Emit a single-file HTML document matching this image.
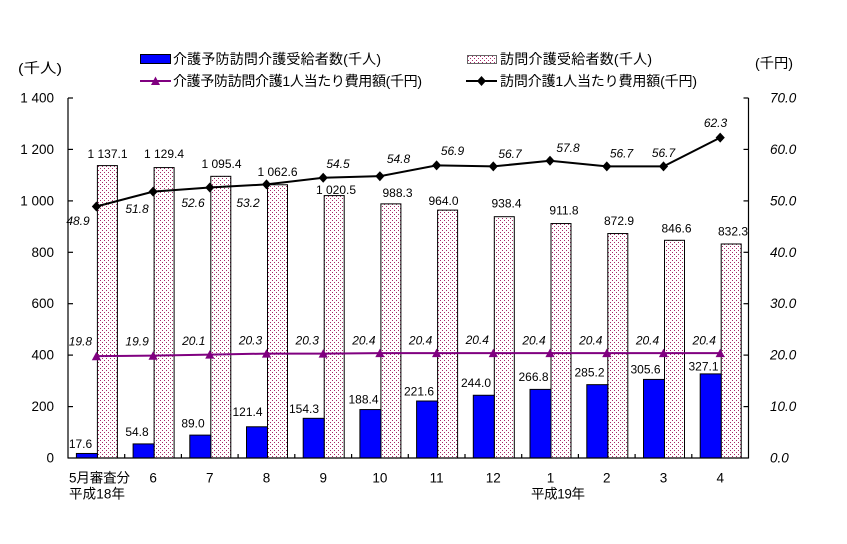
<!DOCTYPE html>
<html><head><meta charset="utf-8"><style>
html,body{margin:0;padding:0;background:#fff;}
svg{display:block;}
text{font-family:"Liberation Sans","Noto Sans CJK JP",sans-serif;fill:#000;}
.ax{font-size:13.5px;}
.dl{font-size:12px;}
.it{font-size:12px;font-style:italic;}
.rt{font-size:13.5px;font-style:italic;}
.lg{font-size:14px;}
</style></head><body>
<svg width="847" height="544" viewBox="0 0 847 544" xmlns="http://www.w3.org/2000/svg">
<defs>
<pattern id="dots" width="4" height="4" patternUnits="userSpaceOnUse">
<rect width="4" height="4" fill="#fff"/>
<rect x="0" y="0" width="1" height="1" fill="#a82868"/>
<rect x="2" y="2" width="1" height="1" fill="#a82868"/>
</pattern>
</defs>
<rect width="847" height="544" fill="#fff"/>

<!-- Legend -->
<rect x="140.5" y="54.5" width="30" height="9" fill="#0000ff" stroke="#000" stroke-width="1"/>
<text class="lg" x="173" y="59" dominant-baseline="central" textLength="208">介護予防訪問介護受給者数(千人)</text>
<line x1="140" y1="81" x2="171" y2="81" stroke="#800080" stroke-width="2"/>
<polygon points="155.5,76.5 160,85 151,85" fill="#800080"/>
<text class="lg" x="173" y="81" dominant-baseline="central" textLength="249">介護予防訪問介護1人当たり費用額(千円)</text>

<rect x="467.5" y="55.5" width="29" height="8" fill="url(#dots)" stroke="#666" stroke-width="1"/>
<text class="lg" x="500" y="59" dominant-baseline="central" textLength="152">訪問介護受給者数(千人)</text>
<line x1="466" y1="81" x2="497" y2="81" stroke="#000" stroke-width="2"/>
<polygon points="481.5,76 486,81 481.5,86 477,81" fill="#000"/>
<text class="lg" x="500" y="81" dominant-baseline="central" textLength="197">訪問介護1人当たり費用額(千円)</text>

<!-- Units -->
<text x="18" y="68" dominant-baseline="central" style="font-size:14px" textLength="44" lengthAdjust="spacingAndGlyphs">(千人)</text>
<text x="755" y="63" dominant-baseline="central" style="font-size:14px" textLength="38" lengthAdjust="spacingAndGlyphs">(千円)</text>

<!-- Pink bars -->
<g fill="url(#dots)" stroke="#000" stroke-width="1">
<rect x="97.4" y="165.6" width="20" height="292.4"/>
<rect x="154.1" y="167.58" width="20" height="290.42"/>
<rect x="210.8" y="176.33" width="20" height="281.67"/>
<rect x="267.5" y="184.76" width="20" height="273.24"/>
<rect x="324.2" y="195.59" width="20" height="262.41"/>
<rect x="380.9" y="203.87" width="20" height="254.13"/>
<rect x="437.6" y="210.11" width="20" height="247.89"/>
<rect x="494.3" y="216.7" width="20" height="241.3"/>
<rect x="551.0" y="223.54" width="20" height="234.46"/>
<rect x="607.8" y="233.54" width="20" height="224.46"/>
<rect x="664.5" y="240.3" width="20" height="217.7"/>
<rect x="721.2" y="243.98" width="20" height="214.02"/>
</g>

<!-- Blue bars -->
<g fill="#0000ff" stroke="#000" stroke-width="1">
<rect x="76.4" y="453.47" width="21" height="4.53"/>
<rect x="133.1" y="443.91" width="21" height="14.09"/>
<rect x="189.8" y="435.11" width="21" height="22.89"/>
<rect x="246.5" y="426.78" width="21" height="31.22"/>
<rect x="303.2" y="418.32" width="21" height="39.68"/>
<rect x="359.9" y="409.55" width="21" height="48.45"/>
<rect x="416.6" y="401.02" width="21" height="56.98"/>
<rect x="473.3" y="395.26" width="21" height="62.74"/>
<rect x="530.0" y="389.39" width="21" height="68.61"/>
<rect x="586.8" y="384.66" width="21" height="73.34"/>
<rect x="643.5" y="379.42" width="21" height="78.58"/>
<rect x="700.2" y="373.89" width="21" height="84.11"/>
</g>

<!-- Axes -->
<g stroke="#000" stroke-width="1.2" fill="none">
<line x1="68" y1="98" x2="68" y2="458.5"/>
<line x1="748.5" y1="98" x2="748.5" y2="458.5"/>
<line x1="68" y1="458" x2="748.5" y2="458"/>
<line x1="68" y1="98" x2="73" y2="98"/>
<line x1="68" y1="149.4" x2="73" y2="149.4"/>
<line x1="68" y1="200.9" x2="73" y2="200.9"/>
<line x1="68" y1="252.3" x2="73" y2="252.3"/>
<line x1="68" y1="303.7" x2="73" y2="303.7"/>
<line x1="68" y1="355.1" x2="73" y2="355.1"/>
<line x1="68" y1="406.6" x2="73" y2="406.6"/>
<line x1="743.5" y1="98" x2="748.5" y2="98"/>
<line x1="743.5" y1="149.4" x2="748.5" y2="149.4"/>
<line x1="743.5" y1="200.9" x2="748.5" y2="200.9"/>
<line x1="743.5" y1="252.3" x2="748.5" y2="252.3"/>
<line x1="743.5" y1="303.7" x2="748.5" y2="303.7"/>
<line x1="743.5" y1="355.1" x2="748.5" y2="355.1"/>
<line x1="743.5" y1="406.6" x2="748.5" y2="406.6"/>
<line x1="124.7" y1="454" x2="124.7" y2="458"/>
<line x1="181.4" y1="454" x2="181.4" y2="458"/>
<line x1="238.1" y1="454" x2="238.1" y2="458"/>
<line x1="294.8" y1="454" x2="294.8" y2="458"/>
<line x1="351.6" y1="454" x2="351.6" y2="458"/>
<line x1="408.3" y1="454" x2="408.3" y2="458"/>
<line x1="465.0" y1="454" x2="465.0" y2="458"/>
<line x1="521.7" y1="454" x2="521.7" y2="458"/>
<line x1="578.4" y1="454" x2="578.4" y2="458"/>
<line x1="635.1" y1="454" x2="635.1" y2="458"/>
<line x1="691.8" y1="454" x2="691.8" y2="458"/>
</g>

<!-- Left axis labels -->
<text x="54" y="98" class="ax" text-anchor="end" dominant-baseline="central">1 400</text>
<text x="54" y="149.4" class="ax" text-anchor="end" dominant-baseline="central">1 200</text>
<text x="54" y="200.9" class="ax" text-anchor="end" dominant-baseline="central">1 000</text>
<text x="54" y="252.3" class="ax" text-anchor="end" dominant-baseline="central">800</text>
<text x="54" y="303.7" class="ax" text-anchor="end" dominant-baseline="central">600</text>
<text x="54" y="355.1" class="ax" text-anchor="end" dominant-baseline="central">400</text>
<text x="54" y="406.6" class="ax" text-anchor="end" dominant-baseline="central">200</text>
<text x="54" y="458" class="ax" text-anchor="end" dominant-baseline="central">0</text>

<!-- Right axis labels -->
<text class="rt" x="770" y="98" dominant-baseline="central">70.0</text>
<text class="rt" x="770" y="149.4" dominant-baseline="central">60.0</text>
<text class="rt" x="770" y="200.9" dominant-baseline="central">50.0</text>
<text class="rt" x="770" y="252.3" dominant-baseline="central">40.0</text>
<text class="rt" x="770" y="303.7" dominant-baseline="central">30.0</text>
<text class="rt" x="770" y="355.1" dominant-baseline="central">20.0</text>
<text class="rt" x="770" y="406.6" dominant-baseline="central">10.0</text>
<text class="rt" x="770" y="458" dominant-baseline="central">0.0</text>

<!-- X axis labels -->
<text class="ax" x="69" y="478" dominant-baseline="central" textLength="61">5月審査分</text>
<text class="ax" x="69" y="494" dominant-baseline="central" textLength="56">平成18年</text>
<text class="ax" x="153.1" y="478" text-anchor="middle" dominant-baseline="central">6</text>
<text class="ax" x="209.8" y="478" text-anchor="middle" dominant-baseline="central">7</text>
<text class="ax" x="266.5" y="478" text-anchor="middle" dominant-baseline="central">8</text>
<text class="ax" x="323.2" y="478" text-anchor="middle" dominant-baseline="central">9</text>
<text class="ax" x="379.9" y="478" text-anchor="middle" dominant-baseline="central">10</text>
<text class="ax" x="436.6" y="478" text-anchor="middle" dominant-baseline="central">11</text>
<text class="ax" x="493.3" y="478" text-anchor="middle" dominant-baseline="central">12</text>
<text class="ax" x="550.5" y="478" text-anchor="middle" dominant-baseline="central">1</text>
<text class="ax" x="606.8" y="478" text-anchor="middle" dominant-baseline="central">2</text>
<text class="ax" x="663.5" y="478" text-anchor="middle" dominant-baseline="central">3</text>
<text class="ax" x="720.2" y="478" text-anchor="middle" dominant-baseline="central">4</text>
<text class="ax" x="531" y="494" dominant-baseline="central" textLength="54">平成19年</text>

<!-- Triangle line (purple) -->
<polyline fill="none" stroke="#800080" stroke-width="2" points="96.4,356.17 153.1,355.66 209.8,354.63 266.5,353.6 323.2,353.6 379.9,353.09 436.6,353.09 493.3,353.09 550.0,353.09 606.8,353.09 663.5,353.09 720.2,353.09"/>
<g fill="#800080">
<polygon points="96.4,351.7 101,360.2 91.8,360.2"/>
<polygon points="153.1,351.2 157.7,359.7 148.5,359.7"/>
<polygon points="209.8,350.1 214.4,358.6 205.2,358.6"/>
<polygon points="266.5,349.1 271.1,357.6 261.9,357.6"/>
<polygon points="323.2,349.1 327.8,357.6 318.6,357.6"/>
<polygon points="379.9,348.6 384.5,357.1 375.3,357.1"/>
<polygon points="436.6,348.6 441.2,357.1 432,357.1"/>
<polygon points="493.3,348.6 497.9,357.1 488.7,357.1"/>
<polygon points="550.0,348.6 554.6,357.1 545.4,357.1"/>
<polygon points="606.8,348.6 611.4,357.1 602.2,357.1"/>
<polygon points="663.5,348.6 668.1,357.1 658.9,357.1"/>
<polygon points="720.2,348.6 724.8,357.1 715.6,357.1"/>
</g>

<!-- Diamond line (black) -->
<polyline fill="none" stroke="#000" stroke-width="2" points="96.4,206.51 153.1,191.6 209.8,187.49 266.5,184.4 323.2,177.71 379.9,176.17 436.6,165.37 493.3,166.4 550.0,160.74 606.8,166.4 663.5,166.4 720.2,137.6"/>
<g fill="#000">
<polygon points="96.4,201.5 101,206.51 96.4,211.5 91.8,206.51"/>
<polygon points="153.1,186.6 157.7,191.6 153.1,196.6 148.5,191.6"/>
<polygon points="209.8,182.5 214.4,187.49 209.8,192.5 205.2,187.49"/>
<polygon points="266.5,179.4 271.1,184.4 266.5,189.4 261.9,184.4"/>
<polygon points="323.2,172.7 327.8,177.71 323.2,182.7 318.6,177.71"/>
<polygon points="379.9,171.2 384.5,176.17 379.9,181.2 375.3,176.17"/>
<polygon points="436.6,160.4 441.2,165.37 436.6,170.4 432,165.37"/>
<polygon points="493.3,161.4 497.9,166.4 493.3,171.4 488.7,166.4"/>
<polygon points="550.0,155.7 554.6,160.74 550.0,165.7 545.4,160.74"/>
<polygon points="606.8,161.4 611.4,166.4 606.8,171.4 602.2,166.4"/>
<polygon points="663.5,161.4 668.1,166.4 663.5,171.4 658.9,166.4"/>
<polygon points="720.2,132.6 724.8,137.6 720.2,142.6 715.6,137.6"/>
</g>

<!-- Pink bar labels -->
<text class="dl" x="107.5" y="154" text-anchor="middle" dominant-baseline="central">1 137.1</text>
<text class="dl" x="164" y="154" text-anchor="middle" dominant-baseline="central">1 129.4</text>
<text class="dl" x="221.5" y="164" text-anchor="middle" dominant-baseline="central">1 095.4</text>
<text class="dl" x="277.5" y="172" text-anchor="middle" dominant-baseline="central">1 062.6</text>
<text class="dl" x="336" y="190" text-anchor="middle" dominant-baseline="central">1 020.5</text>
<text class="dl" x="397.5" y="193" text-anchor="middle" dominant-baseline="central">988.3</text>
<text class="dl" x="443.5" y="201" text-anchor="middle" dominant-baseline="central">964.0</text>
<text class="dl" x="506.5" y="203.5" text-anchor="middle" dominant-baseline="central">938.4</text>
<text class="dl" x="564" y="210.5" text-anchor="middle" dominant-baseline="central">911.8</text>
<text class="dl" x="619" y="221" text-anchor="middle" dominant-baseline="central">872.9</text>
<text class="dl" x="676.5" y="228.5" text-anchor="middle" dominant-baseline="central">846.6</text>
<text class="dl" x="733" y="231.5" text-anchor="middle" dominant-baseline="central">832.3</text>

<!-- Blue bar labels -->
<text class="dl" x="80.5" y="444" text-anchor="middle" dominant-baseline="central">17.6</text>
<text class="dl" x="137" y="432" text-anchor="middle" dominant-baseline="central">54.8</text>
<text class="dl" x="193" y="423.5" text-anchor="middle" dominant-baseline="central">89.0</text>
<text class="dl" x="247.5" y="412" text-anchor="middle" dominant-baseline="central">121.4</text>
<text class="dl" x="304" y="409" text-anchor="middle" dominant-baseline="central">154.3</text>
<text class="dl" x="363.5" y="399.5" text-anchor="middle" dominant-baseline="central">188.4</text>
<text class="dl" x="419" y="391.5" text-anchor="middle" dominant-baseline="central">221.6</text>
<text class="dl" x="476" y="383" text-anchor="middle" dominant-baseline="central">244.0</text>
<text class="dl" x="533.5" y="377" text-anchor="middle" dominant-baseline="central">266.8</text>
<text class="dl" x="589.5" y="372.5" text-anchor="middle" dominant-baseline="central">285.2</text>
<text class="dl" x="645.5" y="369.5" text-anchor="middle" dominant-baseline="central">305.6</text>
<text class="dl" x="703.5" y="366.5" text-anchor="middle" dominant-baseline="central">327.1</text>

<!-- Triangle labels -->
<text class="it" x="80.4" y="341.5" text-anchor="middle" dominant-baseline="central">19.8</text>
<text class="it" x="137.1" y="341.5" text-anchor="middle" dominant-baseline="central">19.9</text>
<text class="it" x="193.8" y="341" text-anchor="middle" dominant-baseline="central">20.1</text>
<text class="it" x="250.5" y="340.5" text-anchor="middle" dominant-baseline="central">20.3</text>
<text class="it" x="307.2" y="340.5" text-anchor="middle" dominant-baseline="central">20.3</text>
<text class="it" x="363.9" y="340.5" text-anchor="middle" dominant-baseline="central">20.4</text>
<text class="it" x="420.6" y="340.5" text-anchor="middle" dominant-baseline="central">20.4</text>
<text class="it" x="477.3" y="340" text-anchor="middle" dominant-baseline="central">20.4</text>
<text class="it" x="534.0" y="340.5" text-anchor="middle" dominant-baseline="central">20.4</text>
<text class="it" x="590.8" y="340.5" text-anchor="middle" dominant-baseline="central">20.4</text>
<text class="it" x="647.5" y="340.5" text-anchor="middle" dominant-baseline="central">20.4</text>
<text class="it" x="704.2" y="340.5" text-anchor="middle" dominant-baseline="central">20.4</text>

<!-- Diamond labels -->
<text class="it" x="78" y="221" text-anchor="middle" dominant-baseline="central">48.9</text>
<text class="it" x="137" y="209" text-anchor="middle" dominant-baseline="central">51.8</text>
<text class="it" x="193" y="203" text-anchor="middle" dominant-baseline="central">52.6</text>
<text class="it" x="248" y="203" text-anchor="middle" dominant-baseline="central">53.2</text>
<text class="it" x="338" y="164" text-anchor="middle" dominant-baseline="central">54.5</text>
<text class="it" x="398.5" y="159" text-anchor="middle" dominant-baseline="central">54.8</text>
<text class="it" x="452.5" y="151" text-anchor="middle" dominant-baseline="central">56.9</text>
<text class="it" x="510" y="154" text-anchor="middle" dominant-baseline="central">56.7</text>
<text class="it" x="568" y="148" text-anchor="middle" dominant-baseline="central">57.8</text>
<text class="it" x="621.5" y="153.5" text-anchor="middle" dominant-baseline="central">56.7</text>
<text class="it" x="663.5" y="153" text-anchor="middle" dominant-baseline="central">56.7</text>
<text class="it" x="715.5" y="123" text-anchor="middle" dominant-baseline="central">62.3</text>
</svg>
</body></html>
